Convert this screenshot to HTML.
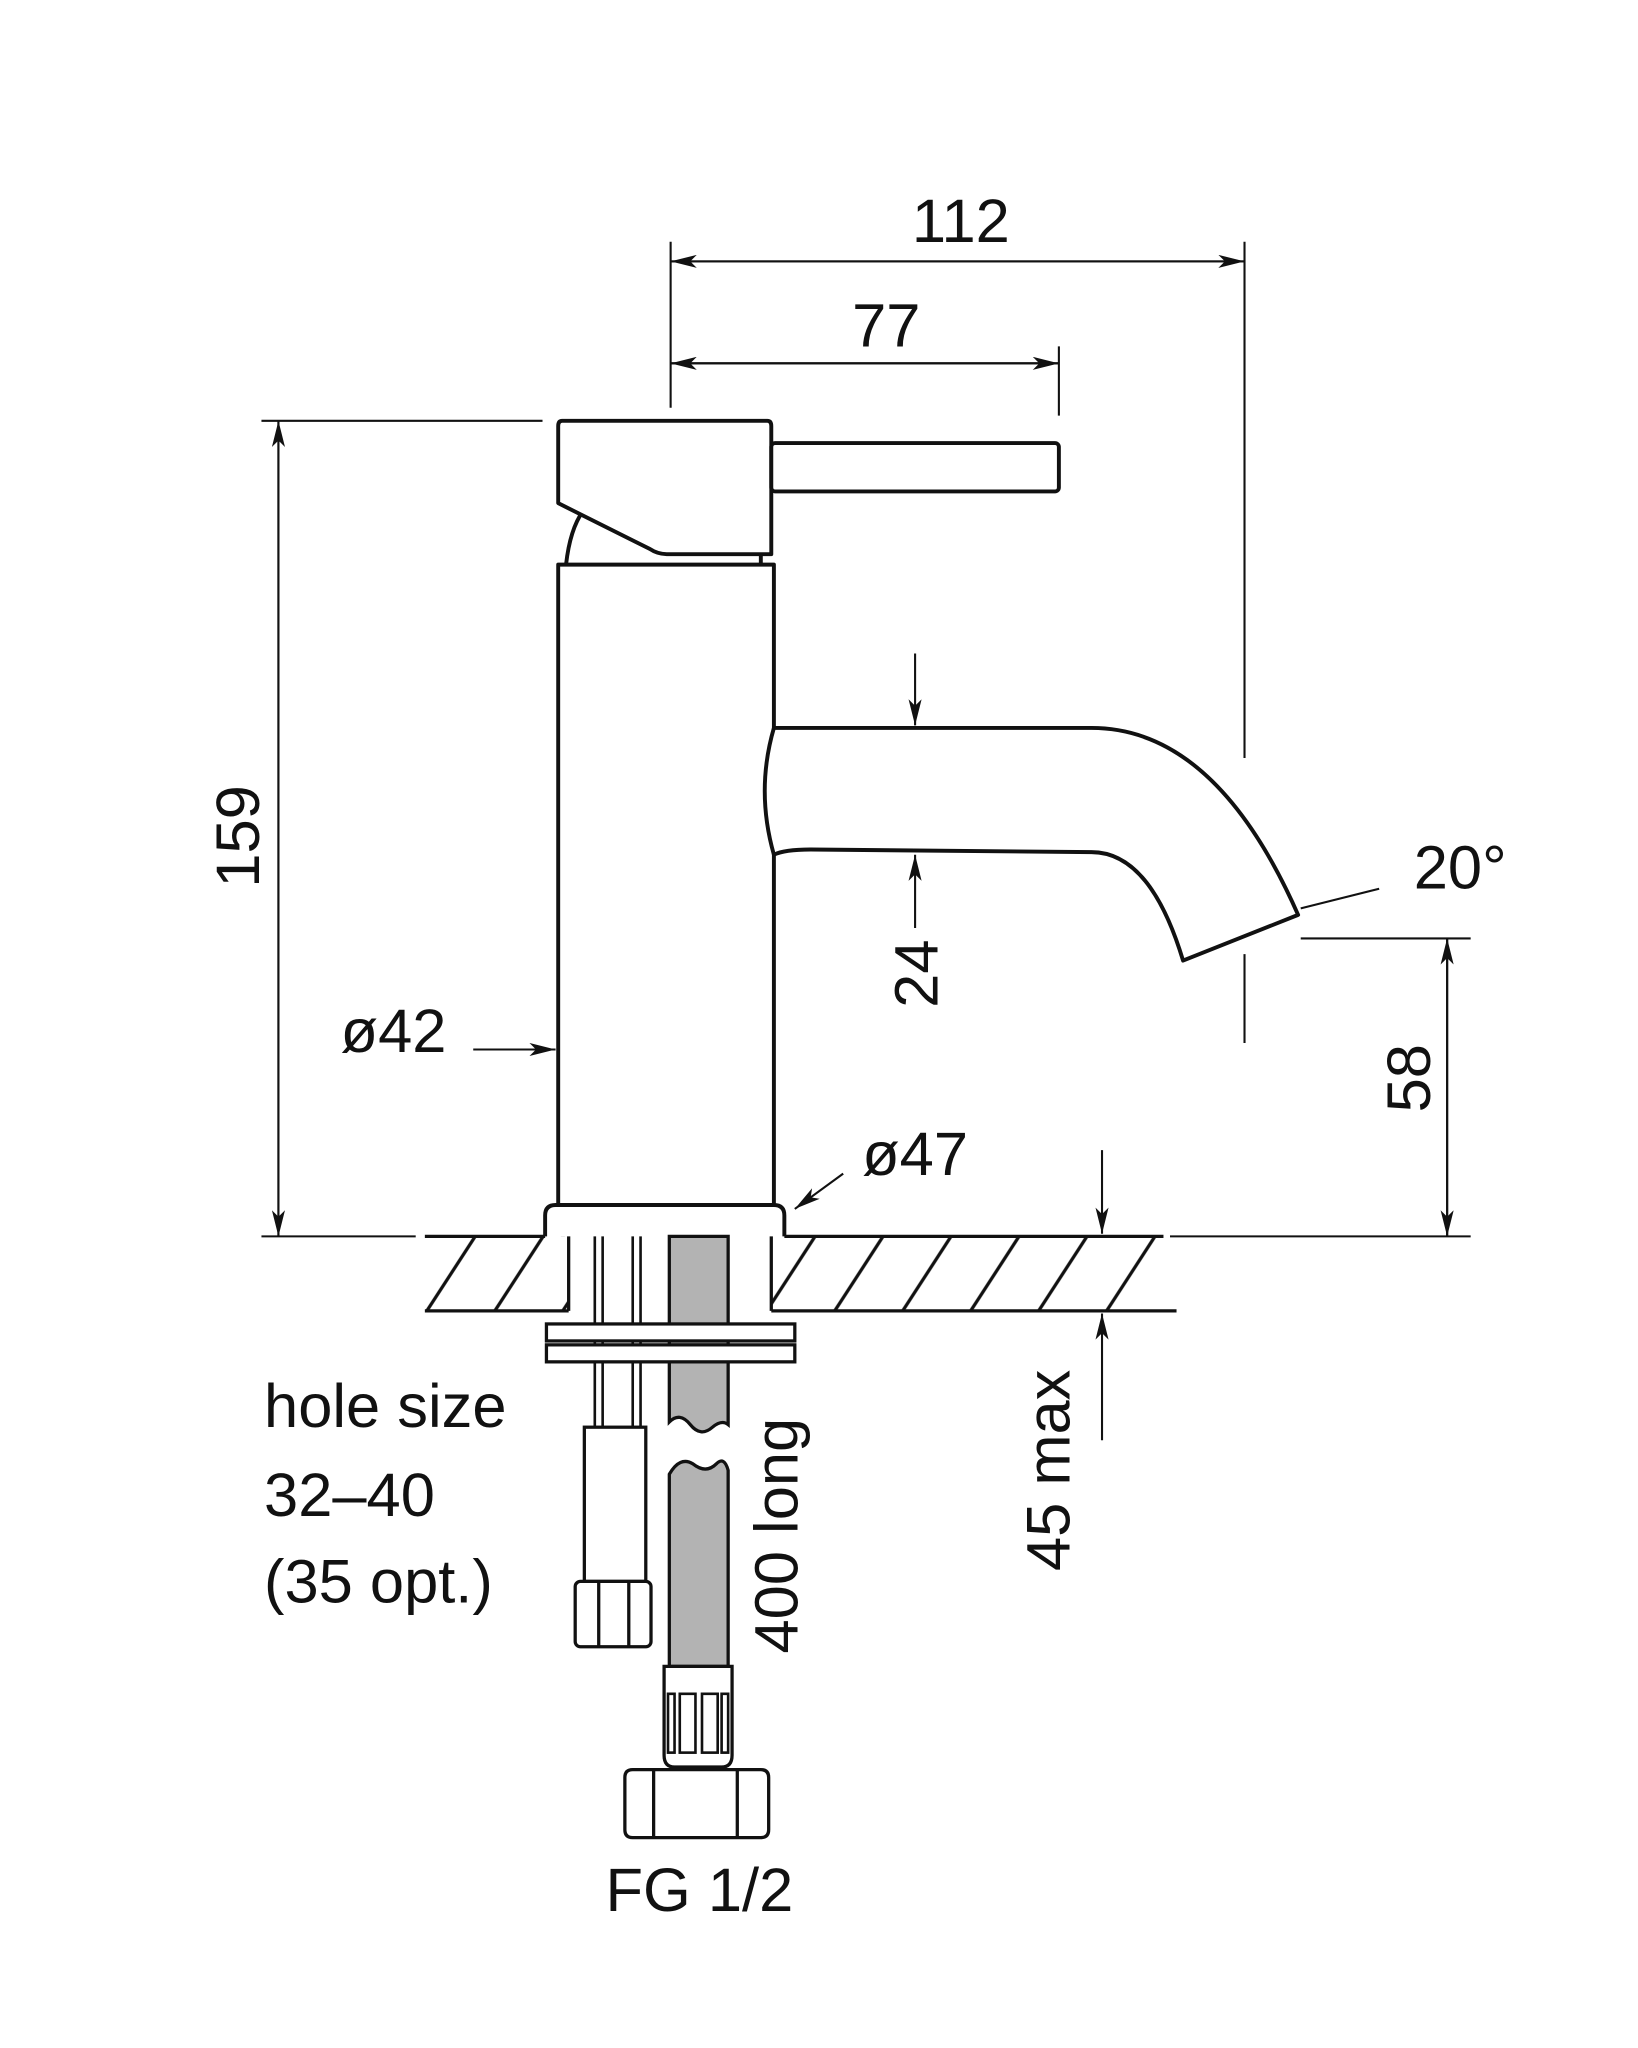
<!DOCTYPE html>
<html><head><meta charset="utf-8"><style>html,body{margin:0;padding:0;background:#fff}svg{display:block}text{font-family:"Liberation Sans",Arial,sans-serif;fill:#111}</style></head><body>
<svg width="1638" height="2048" viewBox="0 0 1253 1567" preserveAspectRatio="none" xmlns="http://www.w3.org/2000/svg">
<defs>
<marker id="a" viewBox="0 0 20 10" refX="20" refY="5" markerWidth="20" markerHeight="10" markerUnits="userSpaceOnUse" orient="auto"><path d="M0,0 L20,5 L0,10 L5,5 Z" fill="#111"/></marker>
<pattern id="h" patternUnits="userSpaceOnUse" width="52" height="57" x="330" y="946"><path d="M-10,67 L40,-10 M42,67 L92,-10" stroke="#111" stroke-width="2.5"/></pattern>
</defs>
<g stroke="#111" fill="none" stroke-width="1.6">
<line x1="513" y1="185" x2="513" y2="312"/>
<line x1="952" y1="185" x2="952" y2="580"/>
<line x1="952" y1="730" x2="952" y2="798"/>
<line x1="810" y1="265" x2="810" y2="318"/>
<line x1="200" y1="322" x2="415" y2="322"/>
<line x1="995" y1="718" x2="1125" y2="718"/>
<line x1="200" y1="946" x2="318" y2="946"/>
<line x1="895" y1="946" x2="1125" y2="946"/>
<line x1="513" y1="200" x2="952" y2="200" marker-end="url(#a)"/>
<line x1="513" y1="278" x2="810" y2="278" marker-end="url(#a)"/>
<line x1="213" y1="322" x2="213" y2="946" marker-end="url(#a)"/>
<line x1="1107" y1="718" x2="1107" y2="946" marker-end="url(#a)"/>
<line x1="700" y1="500" x2="700" y2="555" marker-end="url(#a)"/>
<line x1="700" y1="710" x2="700" y2="654" marker-end="url(#a)"/>
<line x1="362" y1="803" x2="425" y2="803" marker-end="url(#a)"/>
<line x1="645" y1="898" x2="608" y2="925" marker-end="url(#a)"/>
<line x1="843" y1="880" x2="843" y2="944" marker-end="url(#a)"/>
<line x1="843" y1="1102" x2="843" y2="1005" marker-end="url(#a)"/>
<line x1="995" y1="695" x2="1055" y2="680"/>
<line x1="513" y1="200" x2="952" y2="200" marker-end="url(#a)" transform="rotate(180 732.5 200)"/>
<line x1="513" y1="278" x2="810" y2="278" marker-end="url(#a)" transform="rotate(180 661.5 278)"/>
<line x1="213" y1="322" x2="213" y2="946" marker-end="url(#a)" transform="rotate(180 213 634)"/>
<line x1="1107" y1="718" x2="1107" y2="946" marker-end="url(#a)" transform="rotate(180 1107 832)"/>
</g>
<g stroke="#111" fill="#fff" stroke-width="3" stroke-linejoin="round">
<path d="M433,432 Q436,405 446,391" fill="none"/>
<path d="M430,322 L587,322 Q590,322 590,326 L590,424 L510,424 Q503,424 497,420 L427,385 L427,326 Q427,322 430,322 Z"/>
<rect x="590" y="339" width="220" height="37" rx="3"/>
<line x1="582" y1="424" x2="582" y2="432"/>
<rect x="427" y="432" width="165" height="490"/>
<path d="M592,557 L835,557 Q930,557 993,700 L905,735 Q880,652 835,652 L620,650 Q600,650 592,654 Q578,605 592,557 Z"/>
<path d="M417,946 L417,930 Q417,922 425,922 L592,922 Q600,922 600,930 L600,946"/>
</g>
<rect x="325" y="946" width="110" height="57" fill="url(#h)"/>
<rect x="590" y="946" width="300" height="57" fill="url(#h)"/>
<g stroke="#111" stroke-width="2.5" fill="none">
<line x1="325" y1="946" x2="417" y2="946"/><line x1="600" y1="946" x2="890" y2="946"/>
<line x1="325" y1="1003" x2="435" y2="1003"/><line x1="590" y1="1003" x2="900" y2="1003"/>
<line x1="435" y1="946" x2="435" y2="1003"/><line x1="590" y1="946" x2="590" y2="1003"/>
</g>
<g stroke="#111" stroke-width="2.5">
<path d="M512,946 L512,1088 Q520,1080 528,1090 Q536,1100 545,1092 Q552,1086 557,1090 L557,946 Z" fill="#b3b3b3"/>
<path d="M512,1275 L512,1128 Q520,1114 530,1120 Q540,1128 548,1120 Q554,1114 557,1125 L557,1275 Z" fill="#b3b3b3"/>
<line x1="455" y1="946" x2="455" y2="1092" stroke-width="2"/><line x1="461" y1="946" x2="461" y2="1092" stroke-width="2"/>
<line x1="484" y1="946" x2="484" y2="1092" stroke-width="2"/><line x1="490" y1="946" x2="490" y2="1092" stroke-width="2"/>
<rect x="418" y="1013" width="190" height="13" fill="#fff"/>
<rect x="418" y="1029" width="190" height="13" fill="#fff"/>
<rect x="447" y="1092" width="47" height="118" fill="#fff"/>
<rect x="440" y="1210" width="58" height="50" rx="4" fill="#fff"/>
<line x1="458" y1="1210" x2="458" y2="1260"/><line x1="481" y1="1210" x2="481" y2="1260"/>
<path d="M508,1275 L560,1275 L560,1343 Q560,1352 552,1352 L516,1352 Q508,1352 508,1343 Z" fill="#fff"/>
<rect x="511" y="1296" width="5" height="45" fill="#fff" stroke-width="2"/>
<rect x="520" y="1296" width="12" height="45" fill="#fff" stroke-width="2"/>
<rect x="537" y="1296" width="12" height="45" fill="#fff" stroke-width="2"/>
<rect x="552" y="1296" width="5" height="45" fill="#fff" stroke-width="2"/>
<path d="M484,1354 L582,1354 Q588,1354 588,1360 L588,1400 Q588,1406 582,1406 L484,1406 Q478,1406 478,1400 L478,1360 Q478,1354 484,1354 Z" fill="#fff"/>
<line x1="500" y1="1354" x2="500" y2="1406"/><line x1="564" y1="1354" x2="564" y2="1406"/>
</g>
<g font-size="47">
<text x="735" y="185" text-anchor="middle">112</text>
<text x="678" y="265" text-anchor="middle">77</text>
<text x="1117" y="680" text-anchor="middle">20°</text>
<text x="301" y="805" text-anchor="middle">ø42</text>
<text x="700" y="899" text-anchor="middle">ø47</text>
<text x="202" y="1092">hole size</text>
<text x="202" y="1160">32–40</text>
<text x="202" y="1226">(35 opt.)</text>
<text x="535" y="1462" text-anchor="middle">FG 1/2</text>
<text transform="translate(198,640) rotate(-90)" text-anchor="middle">159</text>
<text transform="translate(717,745) rotate(-90)" text-anchor="middle">24</text>
<text transform="translate(1094,825) rotate(-90)" text-anchor="middle">58</text>
<text transform="translate(610,1175) rotate(-90)" text-anchor="middle">400 long</text>
<text transform="translate(818,1125) rotate(-90)" text-anchor="middle">45 max</text>
</g>
</svg>
</body></html>
